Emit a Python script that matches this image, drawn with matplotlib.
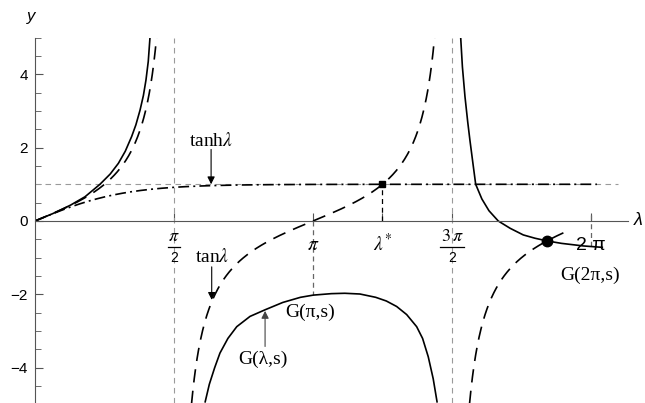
import numpy as np
import matplotlib.pyplot as plt
from matplotlib.ticker import MultipleLocator

plt.rcParams['mathtext.fontset'] = 'stix'

# G(lambda, s) read along its three branches
g_lam_1 = [0.0, 0.2, 0.4, 0.565, 0.734, 0.85, 0.942, 1.02, 1.092, 1.14, 1.187, 1.225, 1.254, 1.28, 1.30]
g_val_1 = [0.0, 0.2, 0.43, 0.66, 1.0, 1.28, 1.57, 1.9, 2.3, 2.62, 3.02, 3.42, 3.84, 4.35, 5.02]
g_lam_2 = [1.921, 1.97, 2.03, 2.09, 2.18, 2.28, 2.43, 2.6, 2.8, 3.0, 3.145, 3.35, 3.5, 3.672,
           3.85, 3.97, 4.087, 4.2, 4.313, 4.38, 4.444, 4.5, 4.545]
g_val_2 = [-4.95, -4.45, -4.0, -3.6, -3.2, -2.88, -2.6, -2.42, -2.22, -2.08, -2.02, -1.98, -1.97, -1.99,
           -2.08, -2.18, -2.33, -2.55, -2.88, -3.2, -3.7, -4.3, -4.95]
g_lam_3 = [4.81, 4.83, 4.859, 4.89, 4.915, 4.95, 4.98, 5.05, 5.13, 5.235, 5.37, 5.518, 5.65, 5.79,
           5.95, 6.196, 6.42]
g_val_3 = [5.02, 4.2, 3.39, 2.7, 2.2, 1.55, 1.0, 0.6, 0.28, 0.0, -0.2, -0.38, -0.47, -0.545,
           -0.61, -0.68, -0.72]

lam_star = 3.9266          # root of tan = tanh
g_pi = -2.02
g_2pi = -0.70
cross = (5.79, -0.545)     # G meets tan

xticks = [np.pi / 2, np.pi, lam_star, 3 * np.pi / 2, 2 * np.pi]

fig = plt.figure(figsize=(6.45, 4.03), dpi=100)
ax = fig.add_axes([35 / 645, 0.0, 593 / 645, 365.5 / 403])
ax.set_xlim(0, 593 / 88.49)
ax.set_ylim(-4.96, 5.0)

axis_col = '#555555'
for side in ('top', 'right'):
    ax.spines[side].set_visible(False)
ax.spines['bottom'].set_position(('data', 0))
ax.spines['bottom'].set_color(axis_col)
ax.spines['left'].set_color(axis_col)

ax.set_xticks(xticks)
ax.set_xticklabels([])
ax.tick_params(axis='x', direction='in', length=6, color=axis_col)
ax.set_yticks([-4, -2, 0, 2, 4])
ax.yaxis.set_minor_locator(MultipleLocator(0.5))
ax.tick_params(axis='y', which='major', direction='in', length=6, color=axis_col,
               labelsize=11, pad=5)
ax.tick_params(axis='y', which='minor', direction='in', length=4, color=axis_col)
for t in ax.get_yticklabels():
    t.set_family('Liberation Sans')

# guide lines
grey = '#9a9a9a'
gdash = (0, (5, 4))
ax.axhline(1.0, xmin=0, xmax=6.59 / ax.get_xlim()[1], color=grey, lw=0.8, ls=gdash)
for xv in (np.pi / 2, 3 * np.pi / 2):
    ax.axvline(xv, color=grey, lw=0.8, ls=gdash)
ax.plot([np.pi, np.pi], [0, g_pi], color='#666666', lw=0.9, ls=(0, (4, 3)))
ax.plot([lam_star, lam_star], [0, 1], color='k', lw=0.9, ls=(0, (4, 3)))
ax.plot([2 * np.pi, 2 * np.pi], [0.15, g_2pi], color='#666666', lw=0.9, ls=(0, (4, 3)))

# tan
tan_dash = (0, (8, 5))
for a, b in [(0.0, np.arctan(5.0)),
             (np.pi / 2 + 0.001, 3 * np.pi / 2 - 0.001),
             (2 * np.pi - np.arctan(5.0), 6.02)]:
    lam = np.linspace(a, b, 400)
    y = np.tan(lam)
    y[np.abs(y) > 5.2] = np.nan
    ax.plot(lam, y, color='k', lw=1.2, ls=tan_dash)

# tanh
lam = np.linspace(0, 6.35, 400)
ax.plot(lam, np.tanh(lam), color='k', lw=1.2, ls=(0, (6.5, 2.5, 1.2, 2.5)))

# G
for lx, gy in [(g_lam_1, g_val_1), (g_lam_2, g_val_2), (g_lam_3, g_val_3)]:
    ax.plot(lx, gy, color='k', lw=1.2, solid_capstyle='butt')

ax.plot([lam_star], [1.0], marker='s', ms=4, color='k')
ax.plot([cross[0]], [cross[1]], marker='o', ms=7.5, color='k')

# tick labels along the lambda axis
serif = 'Liberation Serif'
sans = 'Liberation Sans'


def frac(x, top, half_w):
    ax.text(x, -0.40, top, ha='center', va='center', fontsize=13)
    ax.plot([x - half_w, x + half_w], [-0.70, -0.70], color='k', lw=0.9, clip_on=False)
    ax.text(x, -1.0, '2', ha='center', va='center', fontsize=10, family=sans)


frac(np.pi / 2, r'$\pi$', 0.07)
frac(3 * np.pi / 2, r'$3\,\pi$', 0.13)
ax.text(np.pi, -0.64, r'$\pi$', ha='center', va='center', fontsize=14)
ax.text(lam_star, -0.62, r'$\lambda^{*}$', ha='center', va='center', fontsize=14)
ax.text(2 * np.pi, -0.68, '2 π', ha='center', va='center', fontsize=14, family=sans)
ax.text(6.77, 0.02, 'λ', ha='left', va='center', fontsize=13, family=sans,
        style='italic', clip_on=False)
fig.text(31 / 645, 1 - 16 / 403, 'y', ha='center', va='center', fontsize=12,
         family=sans, style='italic')

# annotations
arrow = dict(arrowstyle='-|>', color='k', lw=0.8, mutation_scale=11, shrinkA=0, shrinkB=0)
ax.text(1.99, 2.18, r'tanh$\lambda$', ha='center', va='center', fontsize=14, family=serif)
ax.annotate('', xy=(1.99, 1.0), xytext=(1.99, 1.95), arrowprops=arrow)
ax.text(1.997, -0.98, r'tan$\lambda$', ha='center', va='center', fontsize=14, family=serif)
ax.annotate('', xy=(1.997, -2.15), xytext=(1.997, -1.25), arrowprops=arrow)
ax.text(2.576, -3.76, 'G(λ,s)', ha='center', va='center', fontsize=14, family=serif)
ax.annotate('', xy=(2.6, -2.45), xytext=(2.6, -3.42),
            arrowprops=dict(arrow, color='#444444'))
ax.text(2.83, -2.5, 'G(π,s)', ha='left', va='center', fontsize=14, family=serif)
ax.text(6.27, -1.47, 'G(2π,s)', ha='center', va='center', fontsize=14, family=serif)

fig.savefig('out.png', dpi=100)
